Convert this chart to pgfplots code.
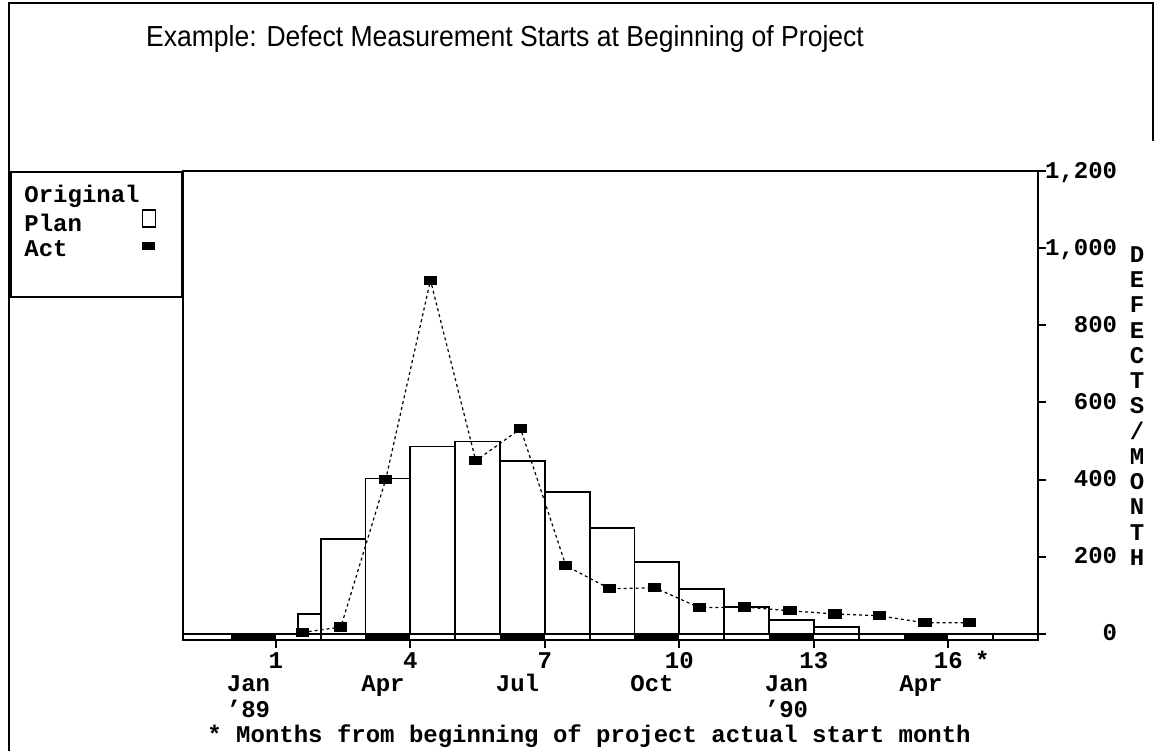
\documentclass[border=0pt]{standalone}
\usepackage{graphicx}
\usepackage{pgfplots}
\pgfplotsset{compat=1.18}
\usepackage{fontspec}
\setmainfont{Liberation Sans}
\newfontfamily\monob{Liberation Mono}
\newcommand{\mf}{\monob\bfseries\fontsize{12}{12.625}\selectfont}

\begin{document}
\begin{tikzpicture}
\useasboundingbox (0pt,0pt) rectangle (578pt,375.5pt);
\draw[line width=1.25pt] (4.5pt,0pt) -- (4.5pt,374pt) -- (576.5pt,374pt) -- (576.5pt,305pt);
\node[font=\fontsize{14.5}{17}\selectfont, anchor=base] at (252.5pt,352pt)
  {\scalebox{0.915}[1]{Example: Defect Measurement Starts at Beginning of Project}};

\begin{axis}[
  at={(91.5pt,55.5pt)}, anchor=south west,
  scale only axis, width=427.5pt, height=234.5pt,
  xmin=-1.07, xmax=18, ymin=-15.6, ymax=1200,
  clip mode=individual,
  axis line style={line width=1pt},
  xtick={1,4,7,10,13,16}, xtick pos=bottom,
  ytick={0,200,400,600,800,1000,1200}, ytick pos=right, yticklabel pos=right,
  tick align=outside, major tick length=3.75pt,
  every tick/.style={black, line width=1pt},
  ticklabel style={font=\mf},
  /pgf/number format/assume math mode=true,
  /pgf/number format/1000 sep={,},
  yticklabel style={anchor=base east, inner sep=0pt, xshift=36pt, yshift=-3.5pt},
  xticklabel style={anchor=base, inner sep=0pt, yshift=-10.5pt},
  legend style={at={(axis description cs:-0.1883,0.9723)}, anchor=north west,
    draw=none, fill=none, inner sep=0pt, row sep=0pt, font=\mf,
    nodes={inner sep=1pt, text height=8pt, text depth=2.5pt}},
  legend cell align=left,
  legend plot pos=right,
]
\addlegendimage{empty legend}
\addlegendentry{Original}

% Original plan (bars)
\addplot[ybar interval, fill=white, draw=black, line width=0.9pt,
  legend image code/.code={\draw[line width=0.75pt, fill=white] (0pt,-0.5pt) rectangle (6.5pt,8pt);}]
  coordinates {(1.5,52) (2,247) (3,403) (4,486) (5,499) (6,449) (7,369) (8,275)
               (9,187) (10,117) (11,70) (12,36) (13,18) (14,0)};
\addlegendentry{Plan}

% quarter strip under the axis
\addplot[fill=black, draw=none, forget plot] coordinates {(0,0) (1,0) (1,-15.6) (0,-15.6)} -- cycle;
\addplot[fill=black, draw=none, forget plot] coordinates {(3,0) (4,0) (4,-15.6) (3,-15.6)} -- cycle;
\addplot[fill=black, draw=none, forget plot] coordinates {(6,0) (7,0) (7,-15.6) (6,-15.6)} -- cycle;
\addplot[fill=black, draw=none, forget plot] coordinates {(9,0) (10,0) (10,-15.6) (9,-15.6)} -- cycle;
\addplot[fill=black, draw=none, forget plot] coordinates {(12,0) (13,0) (13,-15.6) (12,-15.6)} -- cycle;
\addplot[fill=black, draw=none, forget plot] coordinates {(15,0) (16,0) (16,-15.6) (15,-15.6)} -- cycle;
\addplot[ycomb, line width=1pt, black, mark=none, forget plot]
  coordinates {(2,-15.6) (5,-15.6) (8,-15.6) (11,-15.6) (14,-15.6) (17,-15.6)};
\addplot[line width=1pt, black, forget plot] coordinates {(-1.07,0) (18,0)};

% Actual
\addplot[black, line width=0.6pt, dash pattern=on 1.5pt off 1.5pt,
  mark=square*, mark size=2pt,
  mark options={solid, fill=black, draw=black, xscale=1.5},
  legend image code/.code={\fill[black, solid] (0pt,1pt) rectangle (6pt,4.5pt);}]
  coordinates {(1.6,4) (2.45,18) (3.45,400) (4.45,917) (5.46,449) (6.46,532)
               (7.47,177) (8.45,117) (9.45,120) (10.45,68) (11.46,70) (12.47,60)
               (13.47,52) (14.47,47) (15.48,29) (16.48,29)};
\addlegendentry{Act}

% month labels
\node[font=\mf, anchor=base east] at ([yshift=-25.5pt]axis cs:1.03,-15.6) {Jan};
\node[font=\mf, anchor=base east] at ([yshift=-38.5pt]axis cs:1.03,-15.6) {’89};
\node[font=\mf, anchor=base east] at ([yshift=-25.5pt]axis cs:4.03,-15.6) {Apr};
\node[font=\mf, anchor=base east] at ([yshift=-25.5pt]axis cs:7.03,-15.6) {Jul};
\node[font=\mf, anchor=base east] at ([yshift=-25.5pt]axis cs:10.03,-15.6) {Oct};
\node[font=\mf, anchor=base east] at ([yshift=-25.5pt]axis cs:13.03,-15.6) {Jan};
\node[font=\mf, anchor=base east] at ([yshift=-38.5pt]axis cs:13.03,-15.6) {’90};
\node[font=\mf, anchor=base east] at ([yshift=-25.5pt]axis cs:16.03,-15.6) {Apr};
\node[font=\mf, anchor=base] at ([yshift=-14pt]axis cs:16.76,-15.6) {*};
\end{axis}

\draw[line width=1pt] (5.5pt,227pt) rectangle (91pt,289.5pt);
\node[font=\mf, align=center, anchor=center] at (568.5pt,172.5pt)
  {D\\E\\F\\E\\C\\T\\S\\/\\M\\O\\N\\T\\H};
\node[font=\mf, anchor=base west, inner sep=0pt] at (103.5pt,4.5pt)
  {* Months from beginning of project actual start month};
\end{tikzpicture}
\end{document}
